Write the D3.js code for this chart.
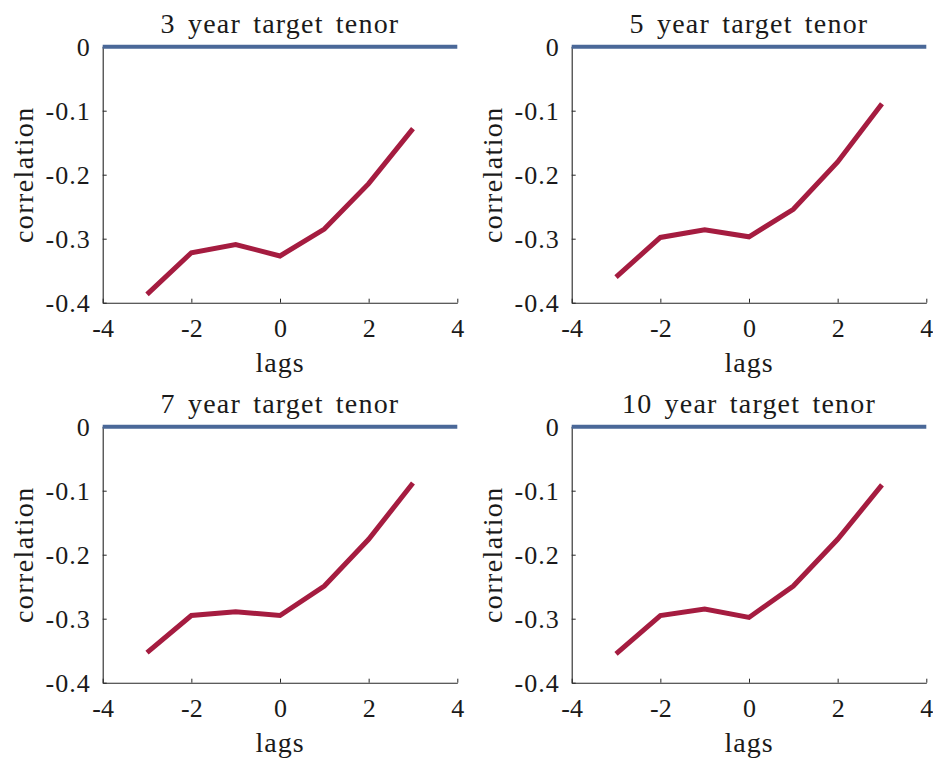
<!DOCTYPE html>
<html>
<head>
<meta charset="utf-8">
<script src="https://cdn.jsdelivr.net/npm/d3@7"></script>
<style>
  html, body { margin: 0; padding: 0; background: #fff; }
</style>
</head>
<body>
<svg id="chart" width="933" height="759"></svg>
<script>
const lags = [-3, -2, -1, 0, 1, 2, 3];
const titles = ["3 year target tenor", "5 year target tenor", "7 year target tenor", "10 year target tenor"];
const corr3y  = [-0.387, -0.322, -0.309, -0.327, -0.285, -0.214, -0.128];
const corr5y  = [-0.360, -0.298, -0.286, -0.297, -0.254, -0.180, -0.089];
const corr7y  = [-0.353, -0.295, -0.289, -0.295, -0.249, -0.176, -0.088];
const corr10y = [-0.355, -0.295, -0.285, -0.298, -0.249, -0.176, -0.091];
const zeroX = [-4, 4];
const zeroY = [0, 0];
const xTicks = [-4, -2, 0, 2, 4];
const yTicks = [-0.4, -0.3, -0.2, -0.1, 0];
const xLabel = "lags";
const yLabel = "correlation";

const series = [corr3y, corr5y, corr7y, corr10y];
const FF = "Liberation Serif";
const txtCol = "#1a1a1a";

const svg = d3.select("#chart");
const W = 354.6, H = 256;
const origins = [[102.7, 46.7], [571.7, 46.7], [102.7, 426.7], [571.7, 426.7]];
const red = "#A51C40", blue = "#4A6898", axisCol = "#262626";
const fmtY = d => d === 0 ? "0" : "-" + Math.abs(d).toFixed(1);
const fmtX = d => d < 0 ? "-" + Math.abs(d) : String(d);

series.forEach((vals, i) => {
  const [ox, oy] = origins[i];
  const g = svg.append("g").attr("transform", `translate(${ox},${oy})`);
  const x = d3.scaleLinear().domain([-4, 4]).range([0, W]);
  const y = d3.scaleLinear().domain([-0.4, 0]).range([H, 0]);

  const xa = g.append("g").attr("transform", `translate(0,${H})`)
    .call(d3.axisBottom(x).tickValues(xTicks).tickSizeInner(-4).tickSizeOuter(0).tickPadding(8).tickFormat(fmtX));
  xa.attr("font-family", FF).attr("font-size", 26);
  xa.select(".domain").attr("stroke", axisCol).attr("stroke-width", 1.1);
  xa.selectAll(".tick line").attr("stroke", axisCol);
  xa.selectAll(".tick text").style("font-family", FF).attr("y", 10).attr("dy", "0.95em").attr("fill", txtCol);

  const ya = g.append("g")
    .call(d3.axisLeft(y).tickValues(yTicks).tickSizeInner(-4).tickSizeOuter(0).tickPadding(12).tickFormat(fmtY));
  ya.attr("font-family", FF).attr("font-size", 26);
  ya.select(".domain").attr("stroke", axisCol).attr("stroke-width", 1.1);
  ya.selectAll(".tick line").attr("stroke", axisCol);
  ya.selectAll(".tick text").style("font-family", FF).attr("dy", "0.33em").attr("fill", txtCol)
    .attr("letter-spacing", 1);

  const line = d3.line().x(d => x(d[0])).y(d => y(d[1]));
  g.append("path")
    .datum(zeroX.map((v, k) => [v, zeroY[k]]))
    .attr("d", line).attr("fill", "none").attr("stroke", blue).attr("stroke-width", 4);

  g.append("path")
    .datum(lags.map((v, k) => [v, vals[k]]))
    .attr("d", line).attr("fill", "none").attr("stroke", red)
    .attr("stroke-width", 5).attr("stroke-linejoin", "miter");

  g.append("text").attr("x", W / 2).attr("y", -13.5).attr("text-anchor", "middle")
    .style("font-family", FF).attr("fill", txtCol)
    .attr("font-size", 28).attr("word-spacing", 4).attr("letter-spacing", 1.2).text(titles[i]);

  g.append("text").attr("x", W / 2).attr("y", H + 69).attr("text-anchor", "middle")
    .style("font-family", FF).attr("fill", txtCol)
    .attr("font-size", 28).attr("letter-spacing", 1).text(xLabel);

  g.append("text").attr("transform", `translate(${-70},${H / 2}) rotate(-90)`)
    .style("font-family", FF).attr("fill", txtCol)
    .attr("text-anchor", "middle").attr("font-size", 28).attr("letter-spacing", 1.4).text(yLabel);
});
</script>
</body>
</html>
